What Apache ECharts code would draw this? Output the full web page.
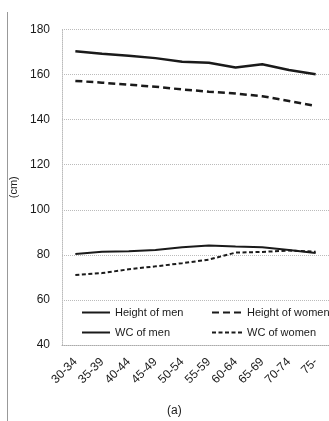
<!DOCTYPE html>
<html>
<head>
<meta charset="utf-8">
<script src="https://cdn.jsdelivr.net/npm/echarts@6/dist/echarts.min.js"></script>
<style>
  html, body { margin: 0; padding: 0; background: #fff; }
  #chart { width: 329px; height: 421px; }
</style>
</head>
<body>
<div id="chart"></div>
<script>
// Age groups on the x axis
const ageGroups = ['30-34', '35-39', '40-44', '45-49', '50-54', '55-59', '60-64', '65-69', '70-74', '75-'];

// Mean values in cm per age group
const heightMen   = [170.4, 169.2, 168.4, 167.3, 165.7, 165.2, 163.1, 164.6, 162.0, 160.1];
const heightWomen = [157.2, 156.4, 155.5, 154.6, 153.4, 152.4, 151.6, 150.4, 148.3, 146.1];
const wcMen       = [80.4, 81.4, 81.6, 82.2, 83.4, 84.1, 83.7, 83.4, 82.2, 80.8];
const wcWomen     = [71.1, 71.9, 73.6, 74.9, 76.3, 77.9, 81.0, 81.3, 81.9, 81.4];

// Y axis tick values
const yTicks = [40, 60, 80, 100, 120, 140, 160, 180];

const FONT = '"Liberation Sans", Arial, sans-serif';
const INK = '#1a1a1a';

const chart = echarts.init(document.getElementById('chart'), null, { renderer: 'canvas' });

function lineSeries(name, data, width, type, dash) {
  return {
    name: name,
    type: 'line',
    data: data,
    symbol: 'none',
    showSymbol: false,
    smooth: false,
    lineStyle: { color: INK, width: width, type: type === 'solid' ? 'solid' : dash },
    itemStyle: { color: INK }
  };
}

const legendCommon = {
  orient: 'vertical',
  top: 307,
  padding: 0,
  itemHeight: 12,
  itemGap: 9,
  itemStyle: { opacity: 0 },
  textStyle: { color: INK, fontFamily: FONT, fontSize: 11 }
};

chart.setOption({
  animation: false,
  backgroundColor: '#fff',
  grid: { left: 62, right: -4, top: 29.5, bottom: 76, containLabel: false },
  xAxis: {
    type: 'category',
    data: ageGroups,
    boundaryGap: true,
    axisLine: { show: true, lineStyle: { color: '#aaa', width: 1, type: 'dotted' } },
    axisTick: { show: false },
    axisLabel: {
      rotate: 45,
      margin: 15,
      interval: 0,
      color: INK,
      fontFamily: FONT,
      fontSize: 12
    }
  },
  yAxis: {
    type: 'value',
    min: yTicks[0],
    max: yTicks[yTicks.length - 1],
    interval: 20,
    name: '(cm)',
    nameLocation: 'middle',
    nameGap: 35,
    nameRotate: 90,
    nameTextStyle: { color: INK, fontFamily: FONT, fontSize: 11 },
    axisLine: { show: true, lineStyle: { color: '#bbb', type: 'dotted', width: 1 } },
    axisTick: { show: false },
    axisLabel: { color: INK, fontFamily: FONT, fontSize: 12, margin: 12 },
    splitLine: { show: true, lineStyle: { color: '#bbb', type: 'dotted', width: 1 } }
  },
  legend: [
    Object.assign({ data: ['Height of men', 'WC of men'], left: 81, itemWidth: 28 }, legendCommon),
    Object.assign({ data: ['Height of women', 'WC of women'], left: 211, itemWidth: 30 }, legendCommon)
  ],
  series: [
    lineSeries('Height of men', heightMen, 2.5, 'solid'),
    lineSeries('Height of women', heightWomen, 2.5, 'dashed', [7, 4]),
    lineSeries('WC of men', wcMen, 2, 'solid'),
    lineSeries('WC of women', wcWomen, 2, 'dashed', [4, 2.5])
  ],
  graphic: [
    {
      type: 'line',
      shape: { x1: 7.5, y1: 12, x2: 7.5, y2: 421 },
      style: { stroke: '#999', lineWidth: 1 }
    },
    {
      type: 'text',
      left: 167,
      top: 405,
      style: { text: '(a)', fill: INK, font: '12px ' + FONT }
    }
  ]
});
</script>
</body>
</html>
